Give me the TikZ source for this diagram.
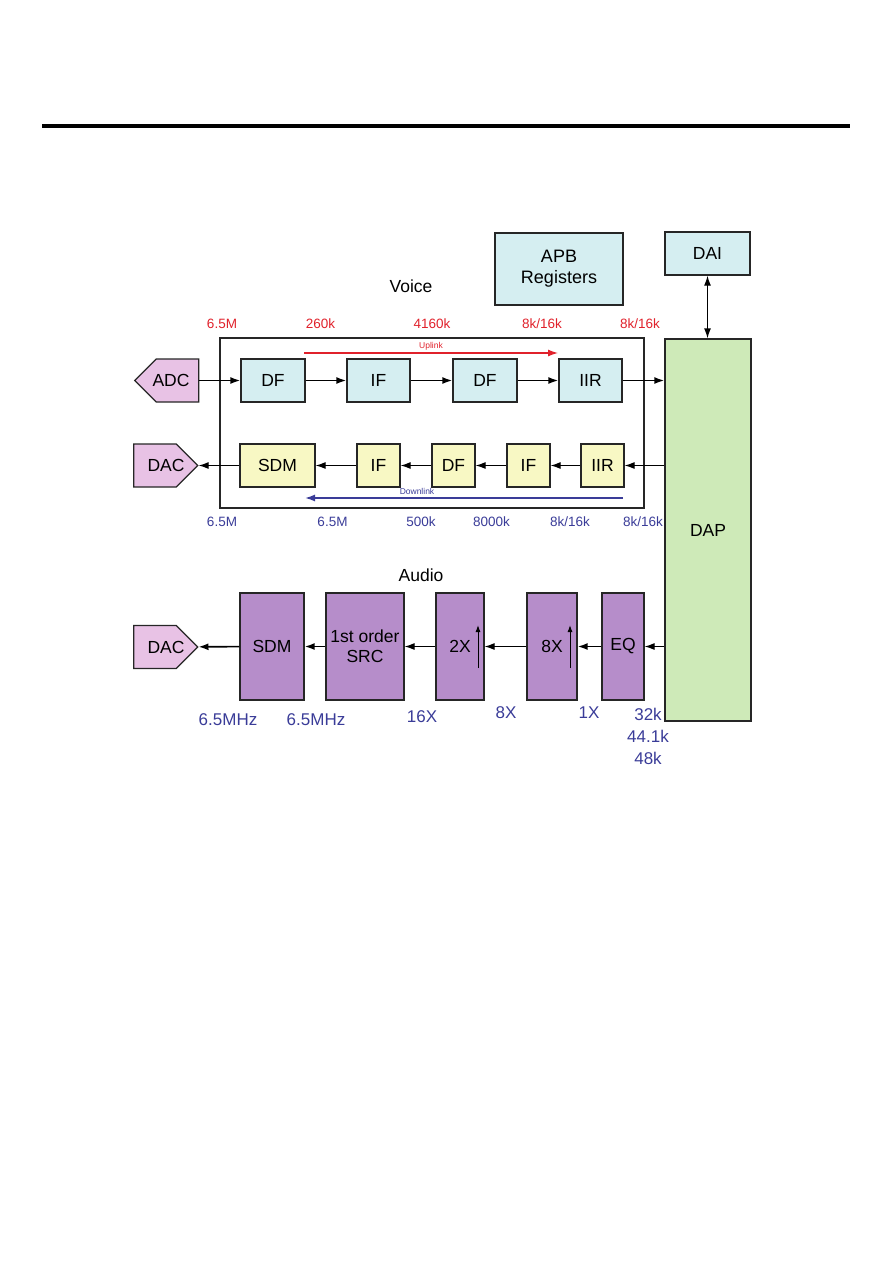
\documentclass[tikz,border=0pt]{standalone}
\usepackage{fontspec}
\setmainfont{Liberation Sans}
\usetikzlibrary{arrows.meta,shapes.symbols}

\definecolor{regcyan}{HTML}{D5EEF1}
\definecolor{dnyellow}{HTML}{F8F8C4}
\definecolor{convpink}{HTML}{E8C2E5}
\definecolor{audpurple}{HTML}{B68DCA}
\definecolor{dapgreen}{HTML}{CEEAB8}
\definecolor{uplred}{HTML}{E0212B}
\definecolor{dnblue}{HTML}{3A3C98}

\newcommand{\boxfont}{\fontsize{17.5}{20}\selectfont}
\newcommand{\ratefont}{\fontsize{13.5}{15}\selectfont}
\newcommand{\audfont}{\fontsize{17}{21}\selectfont}
\newcommand{\tinyfont}{\fontsize{8.5}{10}\selectfont}

\tikzset{
  blk/.style={draw=black!85, line width=1.3pt, inner sep=0pt, font=\boxfont, align=center},
  upbox/.style={blk, fill=regcyan, minimum height=43},
  dnbox/.style={blk, fill=dnyellow, minimum height=43},
  audbox/.style={blk, fill=audpurple, minimum height=107},
  conv/.style={blk, fill=convpink, signal, signal pointer angle=90, minimum width=64, minimum height=43},
  thickarr/.style={line width=1.6pt, -{Latex[length=10pt,width=7pt]}},
  thinarr/.style={line width=1pt, -{Latex[length=10pt,width=7pt]}},
  uprate/.style={text=uplred, font=\ratefont},
  dnrate/.style={text=dnblue, font=\ratefont},
  audrate/.style={text=dnblue, font=\audfont}
}

\begin{document}
\begin{tikzpicture}[x=1pt, y=-1pt]
  \useasboundingbox (0,0) rectangle (893,1263);

  % Heading rule
  \draw[line width=4.5pt] (42,126) -- (850,126);

  % Registers and interface blocks
  \node[upbox, minimum width=128, minimum height=72, font=\fontsize{18}{21}\selectfont] (apb) at (559,269) {APB\\Registers};
  \node[upbox, minimum width=85] (dai) at (707.5,253.5) {DAI};
  \node[blk, fill=dapgreen, minimum width=86, minimum height=382] (dap) at (708,530) {DAP};
  \draw[line width=1.3pt, {Latex[length=10pt,width=7pt]}-{Latex[length=10pt,width=7pt]}] (dai.south) -- (dap.north -| dai.south);

  % Voice path
  \node[font=\boxfont] (voice) at (411,286) {Voice};
  \draw[line width=1.3pt, black!85] (220,338) rectangle (644,508);

  % Uplink rates
  \node[uprate] (r1) at (222,324) {6.5M};
  \node[uprate] (r2) at (320.5,324) {260k};
  \node[uprate] (r3) at (432,324) {4160k};
  \node[uprate] (r4) at (542,324) {8k/16k};
  \node[uprate] (r5) at (640,324) {8k/16k};

  % Uplink direction
  \coordinate (ulstart) at (304,353);
  \coordinate (ulend) at (558,353);
  \draw[uplred, line width=1.3pt, -{Latex[length=10pt,width=7pt]}] (ulstart) -- (ulend);
  \node[text=uplred, font=\tinyfont] (ultext) at (431,346) {Uplink};

  % Uplink chain
  \node[conv, signal to=west, label={[font=\boxfont, xshift=-6.5pt]center:ADC}] (adc) at (177.5,380.5) {};
  \node[upbox, minimum width=64] (df1) at (273,380.5) {DF};
  \node[upbox, minimum width=63] (if1) at (378.5,380.5) {IF};
  \node[upbox, minimum width=64] (df2) at (485,380.5) {DF};
  \node[upbox, minimum width=63] (iir1) at (590.5,380.5) {IIR};
  \draw[thickarr] (adc) -- (df1);
  \draw[thickarr] (df1) -- (if1);
  \draw[thickarr] (if1) -- (df2);
  \draw[thickarr] (df2) -- (iir1);
  \draw[thickarr] (iir1) -- (iir1 -| dap.west);

  % Downlink chain
  \node[conv, signal to=east, label={[font=\boxfont, xshift=11pt]center:DAC}] (dac1) at (155,465.5) {};
  \node[dnbox, minimum width=75] (sdm1) at (277.5,465.5) {SDM};
  \node[dnbox, minimum width=43] (if2) at (378.5,465.5) {IF};
  \node[dnbox, minimum width=43] (df3) at (453.5,465.5) {DF};
  \node[dnbox, minimum width=43] (if3) at (528.5,465.5) {IF};
  \node[dnbox, minimum width=43] (iir2) at (602.5,465.5) {IIR};
  \draw[thinarr] (iir2 -| dap.west) -- (iir2);
  \draw[thinarr] (iir2) -- (if3);
  \draw[thinarr] (if3) -- (df3);
  \draw[thinarr] (df3) -- (if2);
  \draw[thinarr] (if2) -- (sdm1);
  \draw[thinarr] (sdm1) -- (dac1);

  % Downlink direction
  \coordinate (dlstart) at (623,498);
  \coordinate (dlend) at (305,498);
  \draw[dnblue, line width=1.5pt, -{Latex[length=10pt,width=7pt]}] (dlstart) -- (dlend);
  \node[text=dnblue, font=\tinyfont] (dltext) at (417,491) {Downlink};

  % Downlink rates
  \node[dnrate] (d1) at (222,522) {6.5M};
  \node[dnrate] (d2) at (332.5,522) {6.5M};
  \node[dnrate] (d3) at (421,522) {500k};
  \node[dnrate] (d4) at (491.5,522) {8000k};
  \node[dnrate] (d5) at (570,522) {8k/16k};
  \node[dnrate] (d6) at (643,522) {8k/16k};

  % Audio path
  \node[font=\boxfont] (audio) at (421,575) {Audio};
  \node[conv, signal to=east, label={[font=\boxfont, xshift=11pt]center:DAC}] (dac2) at (155,647) {};
  \node[audbox, minimum width=64] (sdm2) at (272,646.5) {SDM};
  \node[audbox, minimum width=78] (src) at (365,646.5) {1st order\\SRC};
  \node[audbox, minimum width=48] (up2) at (460,646.5) {2X};
  \node[audbox, minimum width=50] (up8) at (552,646.5) {8X};
  \node[audbox, minimum width=42] (eq) at (623,646.5) {EQ};
  \draw[thinarr] (eq -| dap.west) -- (eq);
  \draw[thickarr] (eq) -- (up8);
  \draw[thinarr] (up8) -- (up2);
  \draw[thinarr] (up2) -- (src);
  \draw[thickarr] (src) -- (sdm2);
  \draw[thickarr] (sdm2) -- (dac2);

  % Upsampling marks
  \coordinate (m2a) at (478,668);
  \coordinate (m2b) at (478,625);
  \coordinate (m8a) at (570,668);
  \coordinate (m8b) at (570,625);
  \draw[line width=1pt, -{Latex[length=7pt,width=5pt]}] (m2a) -- (m2b);
  \draw[line width=1pt, -{Latex[length=7pt,width=5pt]}] (m8a) -- (m8b);

  % Audio rates
  \node[audrate] (a1) at (228,720) {6.5MHz};
  \node[audrate] (a2) at (316,720) {6.5MHz};
  \node[audrate] (a3) at (422,717) {16X};
  \node[audrate] (a4) at (506,713) {8X};
  \node[audrate] (a5) at (589,713) {1X};
  \node[audrate] (a6) at (648,714) {32k};
  \node[audrate] (a7) at (648,736) {44.1k};
  \node[audrate] (a8) at (648,758) {48k};
\end{tikzpicture}
\end{document}
